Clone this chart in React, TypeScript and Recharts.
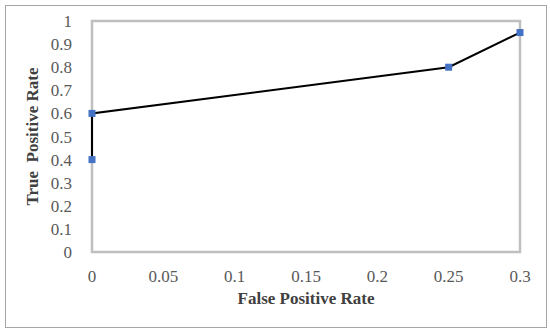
import { Label, Line, LineChart, ReferenceArea, XAxis, YAxis } from "recharts";

const fpr = [0, 0, 0.25, 0.3];
const tpr = [0.4, 0.6, 0.8, 0.95];
const xTicks = [0, 0.05, 0.1, 0.15, 0.2, 0.25, 0.3];
const yTicks = [0, 0.1, 0.2, 0.3, 0.4, 0.5, 0.6, 0.7, 0.8, 0.9, 1];

const data = fpr.map((x, i) => ({ x, y: tpr[i] }));

const font = "'Liberation Serif', 'Times New Roman', serif";
const tickStyle = { fill: "#595959", fontSize: 17, fontFamily: font };
const titleStyle = { fill: "#404040", fontSize: 17, fontWeight: "bold", fontFamily: font };

function SquareDot(props: any) {
  const { cx, cy, index } = props;
  if (cx == null || cy == null) return null;
  return <rect key={`dot-${index}`} x={cx - 3.5} y={cy - 3.5} width={7} height={7} fill="#4472c4" />;
}

export default function App() {
  return (
    <div style={{ position: "absolute", left: 0, top: 0, width: 550, height: 334, background: "#fff" }}>
      <div
        style={{
          position: "absolute",
          left: 5,
          top: 5,
          width: 540,
          height: 321,
          border: "1px solid #a6a6a6",
        }}
      />
      <div style={{ position: "absolute", left: 0, top: 0 }}>
        <LineChart width={550} height={334} data={data} margin={{ top: 21, right: 30, bottom: 0, left: 32 }}>
          <ReferenceArea x1={0} x2={0.3} y1={0} y2={1} fill="none" stroke="#bfbfbf" strokeWidth={2.5} />
          <XAxis
            dataKey="x"
            type="number"
            domain={[0, 0.3]}
            ticks={xTicks}
            axisLine={false}
            tickLine={false}
            tick={tickStyle}
            tickMargin={12}
            interval={0}
            height={82}
          >
            <Label value="False Positive Rate" position="insideTop" offset={40} style={titleStyle} />
          </XAxis>
          <YAxis
            dataKey="y"
            type="number"
            domain={[0, 1]}
            ticks={yTicks}
            axisLine={false}
            tickLine={false}
            tick={tickStyle}
            tickMargin={14}
            interval={0}
            width={60}
          >
            <Label
              value={"True\u00a0 Positive Rate"}
              angle={-90}
              position="insideLeft"
              offset={0}
              style={{ ...titleStyle, textAnchor: "middle" }}
            />
          </YAxis>
          <Line
            dataKey="y"
            type="linear"
            stroke="#000"
            strokeWidth={2}
            dot={SquareDot}
            activeDot={false}
            isAnimationActive={false}
          />
        </LineChart>
      </div>
    </div>
  );
}
